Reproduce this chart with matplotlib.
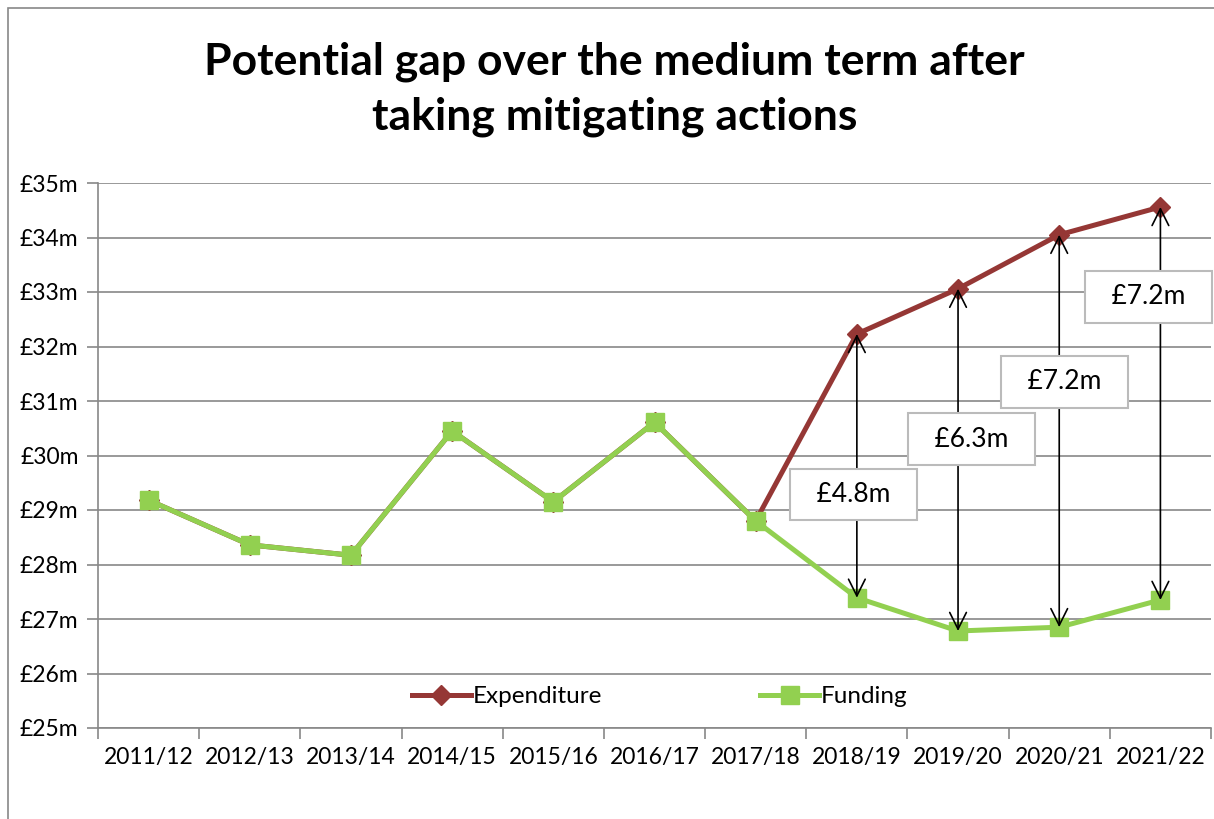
import matplotlib
matplotlib.use("Agg")
import matplotlib.pyplot as plt
from matplotlib.patches import Rectangle

# data (£m)
years = ["2011/12", "2012/13", "2013/14", "2014/15", "2015/16", "2016/17",
         "2017/18", "2018/19", "2019/20", "2020/21", "2021/22"]
expenditure = [29.18, 28.36, 28.17, 30.45, 29.15, 30.61, 28.80, 32.23, 33.06, 34.05, 34.56]
funding = [29.18, 28.36, 28.17, 30.45, 29.15, 30.61, 28.80, 27.39, 26.78, 26.85, 27.35]
gap_labels = ["£4.8m", "£6.3m", "£7.2m", "£7.2m"]
gap_idx = [7, 8, 9, 10]
# label box centres (x in category units, y in £m)
gap_box_x = [6.97, 8.13, 9.05, 9.88]
gap_box_y = [29.28, 30.30, 31.35, 32.91]

plt.rcParams['font.family'] = ['Lato', 'DejaVu Sans']

fig = plt.figure(figsize=(12.14, 8.19), dpi=100)
# chart border
fig.patches.append(Rectangle((8 / 1214, -0.1), 1.2, 1.1 - 8 / 819, transform=fig.transFigure,
                             fill=False, edgecolor='#888888', linewidth=1.2))

ax = fig.add_axes([98 / 1214, 1 - 728 / 819, 1113 / 1214, (728 - 183) / 819])
x = list(range(len(years)))

ax.plot(x, expenditure, color='#953735', linewidth=3.6, marker='D', markersize=10.5,
        label='Expenditure', zorder=3)
ax.plot(x, funding, color='#92D050', linewidth=3.6, marker='s', markersize=13.5,
        label='Funding', zorder=4)

for i, lab, bx, by in zip(gap_idx, gap_labels, gap_box_x, gap_box_y):
    ax.annotate('', xy=(i, funding[i]), xytext=(i, expenditure[i]),
                arrowprops=dict(arrowstyle='<->', color='black', lw=1.2,
                                mutation_scale=30, shrinkA=0, shrinkB=0), zorder=5)
    ax.text(bx, by, "  " + lab + "  ", ha='center', va='center', fontsize=19, zorder=6,
            bbox=dict(boxstyle='square,pad=0.5', facecolor='white', edgecolor='#bbbbbb', linewidth=1.5))

ax.set_xlim(-0.5, len(years) - 0.5)
ax.set_ylim(25, 35)
ax.set_yticks(range(25, 36))
ax.set_yticklabels([f"£{v}m" for v in range(25, 36)], fontsize=16.5)
ax.set_xticks(x)
ax.set_xticklabels(years, fontsize=16.5)
ax.set_xticks([i - 0.5 for i in range(len(years) + 1)], minor=True)
ax.tick_params(axis='x', which='major', length=0, pad=14)
ax.tick_params(axis='x', which='minor', length=8, color='#888888', width=1.2)
ax.tick_params(axis='y', length=8, color='#888888', width=1.2, pad=6)
ax.yaxis.grid(True, color='#888888', linewidth=1.2)
ax.set_axisbelow(True)
for s in ['top', 'right']:
    ax.spines[s].set_visible(False)
for s in ['left', 'bottom']:
    ax.spines[s].set_color('#888888')
    ax.spines[s].set_linewidth(1.2)

ax.legend(loc='center', bbox_to_anchor=(0.505, 0.057), ncol=2, frameon=False, fontsize=17.5,
          handlelength=2.4, handletextpad=0.1, columnspacing=6.5, borderaxespad=0)

fig.text(0.506, 1 - 89 / 819, "Potential gap over the medium term after\ntaking mitigating actions",
         ha='center', va='center', fontsize=32, fontweight='bold', linespacing=1.45)

fig.savefig('out.png', dpi=100)
